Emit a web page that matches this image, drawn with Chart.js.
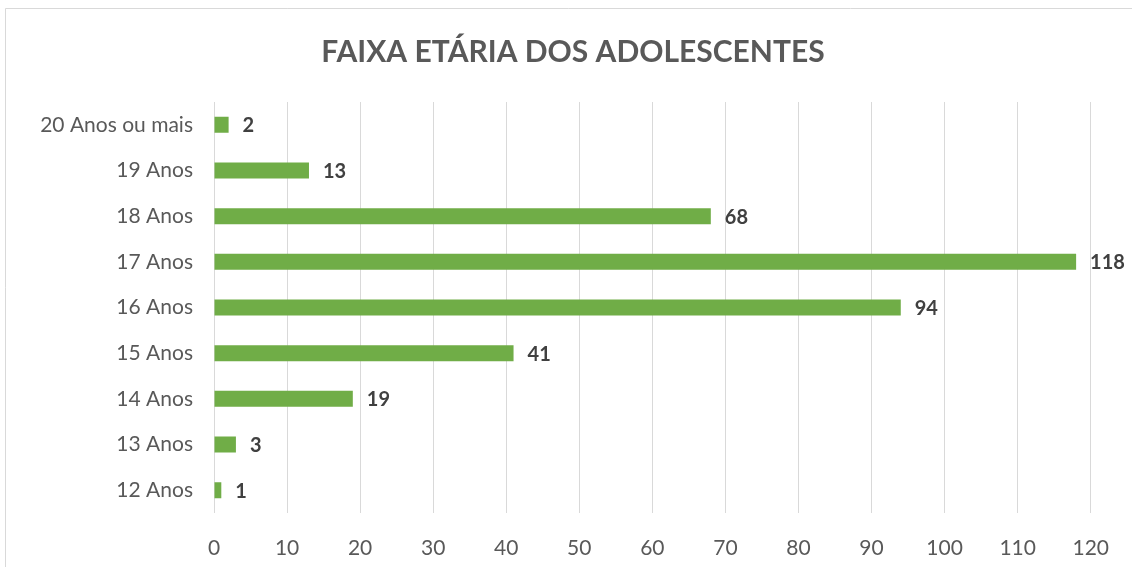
<!DOCTYPE html>
<html>
<head>
<meta charset="utf-8">
<script src="https://cdn.jsdelivr.net/npm/chart.js@4"></script>
<style>
  html, body { margin: 0; padding: 0; background: #fff; }
  #wrap { width: 1132px; height: 567px; position: relative; }
</style>
</head>
<body>
<div id="wrap"><canvas id="bar-chart" width="1132" height="567"></canvas></div>
<script>
// dados
const titulo = "FAIXA ETÁRIA DOS ADOLESCENTES";
const faixas = ["20 Anos ou mais", "19 Anos", "18 Anos", "17 Anos", "16 Anos", "15 Anos", "14 Anos", "13 Anos", "12 Anos"];
const quantidades = [2, 13, 68, 118, 94, 41, 19, 3, 1];
const ticksX = [0, 10, 20, 30, 40, 50, 60, 70, 80, 90, 100, 110, 120];

const FONTE = "Lato, 'Open Sans', sans-serif";

// moldura + fundo branco + título centrado na imagem
const moldura = {
  id: "moldura",
  beforeDraw(chart) {
    const ctx = chart.ctx;
    ctx.save();
    ctx.fillStyle = "#fff";
    ctx.fillRect(0, 0, chart.width, chart.height);
    ctx.strokeStyle = "#d9d9d9";
    ctx.lineWidth = 1;
    ctx.beginPath();
    ctx.moveTo(5.5, chart.height);
    ctx.lineTo(5.5, 8.5);
    ctx.lineTo(chart.width, 8.5);
    ctx.stroke();

    ctx.font = "bold 30px " + FONTE;
    ctx.fillStyle = "#595959";
    ctx.textAlign = "center";
    ctx.textBaseline = "middle";
    ctx.fillText(titulo, 573, 52);
    ctx.restore();
  }
};

// rótulos de valor ao lado das barras
const rotulos = {
  id: "rotulos",
  afterDatasetsDraw(chart) {
    const ctx = chart.ctx;
    const meta = chart.getDatasetMeta(0);
    ctx.save();
    ctx.font = "bold 20px " + FONTE;
    ctx.fillStyle = "#404040";
    ctx.textBaseline = "middle";
    ctx.textAlign = "left";
    meta.data.forEach((bar, i) => {
      ctx.fillText(String(quantidades[i]), bar.x + 14, bar.y + 1);
    });
    ctx.restore();
  }
};

const ctxBar = document.querySelector("#bar-chart").getContext("2d");

const barChart = new Chart(ctxBar, {
  type: "bar",
  data: {
    labels: faixas,
    datasets: [{
      data: quantidades,
      backgroundColor: "#70AD47",
      borderWidth: 0,
      categoryPercentage: 1,
      barPercentage: 0.35
    }]
  },
  options: {
    indexAxis: "y",
    responsive: false,
    animation: false,
    layout: { padding: { left: 0, right: 37, top: 102, bottom: 0 } },
    plugins: {
      legend: { display: false },
      tooltip: { enabled: false },
      title: { display: false }
    },
    scales: {
      x: {
        min: 0,
        max: 120,
        afterBuildTicks(scale) {
          scale.ticks = ticksX.map(v => ({ value: v }));
        },
        afterFit(scale) { scale.height = 54; },
        grid: { color: "#d9d9d9", drawTicks: false },
        border: { display: false },
        ticks: {
          color: "#595959",
          padding: 23,
          font: { family: FONTE, size: 21 }
        }
      },
      y: {
        afterFit(scale) { scale.width = 214; },
        grid: { display: false },
        border: { display: false },
        ticks: {
          color: "#595959",
          padding: 13,
          font: { family: FONTE, size: 21 }
        }
      }
    }
  },
  plugins: [moldura, rotulos]
});
</script>
</body>
</html>
